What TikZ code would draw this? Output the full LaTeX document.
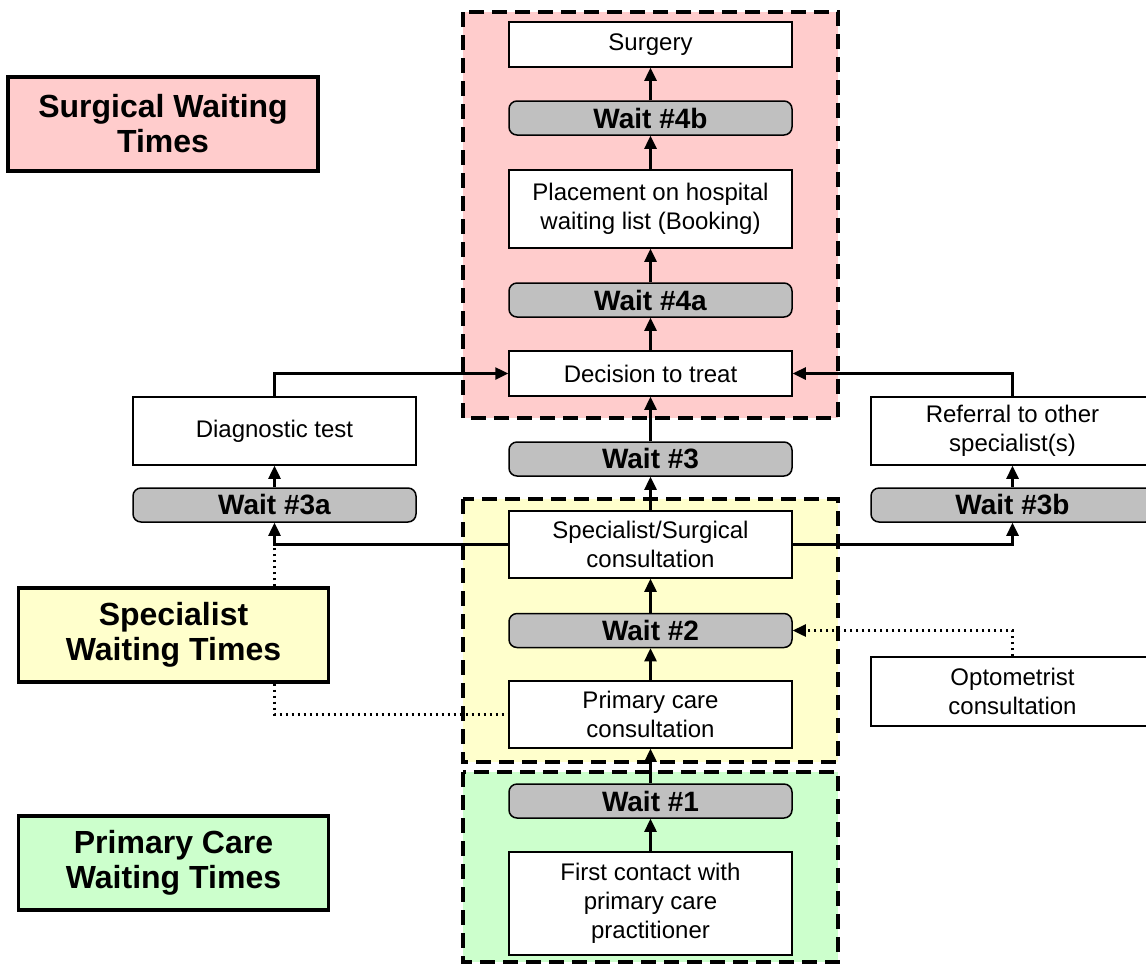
\documentclass[tikz,border=0pt]{standalone}
\usepackage{fontspec}
\setmainfont{Liberation Sans}
\usetikzlibrary{arrows.meta}
\definecolor{pinkbg}{HTML}{FFCCCC}
\definecolor{yellowbg}{HTML}{FFFFCC}
\definecolor{greenbg}{HTML}{CCFFCC}
\definecolor{waitgray}{HTML}{C0C0C0}
\tikzset{
  stagebox/.style={draw, line width=0.75pt, fill=white, minimum width=141.5pt, inner sep=0pt, align=center, font=\fontsize{12}{14.5}\selectfont},
  waitbox/.style={draw, line width=0.75pt, fill=waitgray, rounded corners=4pt, minimum width=141.5pt, minimum height=17pt, inner sep=0pt, align=center, font=\bfseries\fontsize{14}{16}\selectfont},
  labelbox/.style={draw, line width=1.6pt, minimum width=155pt, minimum height=47pt, inner sep=0pt, align=center, font=\bfseries\fontsize{16}{17.5}\selectfont},
  region/.style={line width=1.75pt, dash pattern=on 7.5pt off 4pt},
  arr/.style={line width=1.25pt, -{Triangle[length=6.5pt,width=6pt]}},
  dotline/.style={line width=1.2pt, dash pattern=on 1.2pt off 1.8pt},
  dotarr/.style={line width=1.2pt, dash pattern=on 1.2pt off 1.8pt, -{Triangle[length=6.5pt,width=6pt]}}
}
\begin{document}
\begin{tikzpicture}[x=0.5pt,y=-0.5pt]
\useasboundingbox (0,0) rectangle (1146,965);
\clip (0,0) rectangle (1146,965);
% regions
\fill[pinkbg] (463,12) rectangle (838,418);
\draw[region] (463,12) rectangle (838,418);
\fill[yellowbg] (463,499) rectangle (838,762);
\draw[region] (463,499) rectangle (838,762);
\fill[greenbg] (463,772) rectangle (838,962);
\draw[region] (463,772) rectangle (838,962);
% label boxes
\node[labelbox, fill=pinkbg] (swt) at (163,124) {Surgical Waiting\\Times};
\node[labelbox, fill=yellowbg] (spwt) at (173.5,635) {Specialist\\Waiting Times};
\node[labelbox, fill=greenbg] (pcwt) at (173.5,863) {Primary Care\\Waiting Times};
% main column
\node[stagebox, minimum height=22.5pt] (surgery) at (650.5,44.5) {Surgery};
\node[waitbox] (w4b) at (650.5,118) {Wait \#4b};
\node[stagebox, minimum height=39pt] (placement) at (650.5,209) {Placement on hospital\\waiting list (Booking)};
\node[waitbox] (w4a) at (650.5,300) {Wait \#4a};
\node[stagebox, minimum height=22.5pt] (decision) at (650.5,373.5) {Decision to treat};
\node[waitbox] (w3) at (650.5,459) {Wait \#3};
\node[stagebox, minimum height=33.5pt] (spec) at (650.5,544.5) {Specialist/Surgical\\consultation};
\node[waitbox] (w2) at (650.5,630.5) {Wait \#2};
\node[stagebox, minimum height=33.5pt] (pcc) at (650.5,714.5) {Primary care\\consultation};
\node[waitbox] (w1) at (650.5,801) {Wait \#1};
\node[stagebox, minimum height=51.5pt] (first) at (650.5,903.5) {First contact with\\primary care\\practitioner};
% side columns
\node[stagebox, minimum height=34pt] (diag) at (274.5,431) {Diagnostic test};
\node[waitbox] (w3a) at (274.5,505) {Wait \#3a};
\node[stagebox, minimum height=34pt] (referral) at (1012.5,431) {Referral to other\\specialist(s)};
\node[waitbox] (w3b) at (1012.5,505) {Wait \#3b};
\node[stagebox, minimum height=34.5pt] (opto) at (1012.5,691.5) {Optometrist\\consultation};
% main arrows
\draw[arr] (first) -- (w1);
\draw[arr] (w1) -- (pcc);
\draw[arr] (pcc) -- (w2);
\draw[arr] (w2) -- (spec);
\draw[arr] (spec) -- (w3);
\draw[arr] (w3) -- (decision);
\draw[arr] (decision) -- (w4a);
\draw[arr] (w4a) -- (placement);
\draw[arr] (placement) -- (w4b);
\draw[arr] (w4b) -- (surgery);
% side arrows
\draw[arr] (spec.west) -| (w3a.south);
\draw[arr] (spec.east) -| (w3b.south);
\draw[arr] (w3a) -- (diag);
\draw[arr] (w3b) -- (referral);
\draw[arr] (diag.north) |- (decision.west);
\draw[arr] (referral.north) |- (decision.east);
% dotted links
\draw[dotline] (spwt.north -| w3a.south) -- (spec.west -| w3a.south);
\draw[dotline] (spwt.south -| w3a.south) |- (pcc.west);
\draw[dotarr] (opto.north) |- (w2.east);
\end{tikzpicture}
\end{document}
